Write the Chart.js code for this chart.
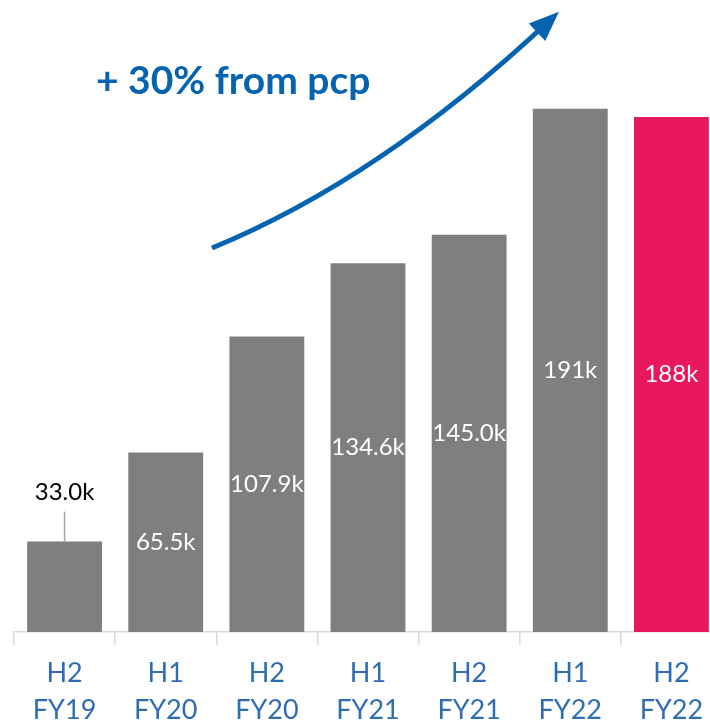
<!DOCTYPE html>
<html>
<head>
<meta charset="utf-8">
<script src="https://cdn.jsdelivr.net/npm/chart.js@4"></script>
<style>
  html, body { margin: 0; padding: 0; background: #fff; overflow: hidden; }
  #wrap { width: 710px; height: 727px; overflow: hidden; position: relative; }
  canvas { position: absolute; left: 0; top: 0; }
</style>
</head>
<body>
<div id="wrap"><canvas id="chart" width="724" height="727"></canvas></div>
<script>
// half-year periods, values in thousands
const halves = ["H2", "H1", "H2", "H1", "H2", "H1", "H2"];
const years = ["FY19", "FY20", "FY20", "FY21", "FY21", "FY22", "FY22"];
const values = [33.0, 65.5, 107.9, 134.6, 145.0, 191, 188];
const valueLabels = ["33.0k", "65.5k", "107.9k", "134.6k", "145.0k", "191k", "188k"];
const headline = "+ 30% from pcp";

const GRAY = "#7f7f7f";
const PINK = "#e9175b";
const BLUE = "#0563b0";
const AXIS_BLUE = "#2e6db4";

const barColors = values.map((v, i) => (i === values.length - 1 ? PINK : GRAY));

const barLabels = {
  id: "barLabels",
  afterDatasetsDraw(chart) {
    const { ctx } = chart;
    const meta = chart.getDatasetMeta(0);
    ctx.save();
    ctx.font = "24px Lato";
    ctx.textAlign = "center";
    ctx.textBaseline = "middle";
    meta.data.forEach((bar, i) => {
      if (i === 0) {
        // small bar: label above with a leader line
        ctx.strokeStyle = "#a6a6a6";
        ctx.lineWidth = 1.5;
        ctx.beginPath();
        ctx.moveTo(bar.x, bar.y);
        ctx.lineTo(bar.x, bar.y - 30);
        ctx.stroke();
        ctx.fillStyle = "#000";
        ctx.fillText(valueLabels[i], bar.x, bar.y - 49);
      } else {
        ctx.fillStyle = "#fff";
        ctx.fillText(valueLabels[i], bar.x, (bar.y + bar.base) / 2);
      }
    });
    ctx.restore();
  },
};

const growthArrow = {
  id: "growthArrow",
  afterDraw(chart) {
    const { ctx } = chart;
    ctx.save();
    ctx.fillStyle = BLUE;
    ctx.font = "bold 39px Lato";
    ctx.textBaseline = "middle";
    ctx.fillText(headline, 96, 81);

    const p0 = [212, 248], c = [380, 179], p2 = [548, 22];
    ctx.strokeStyle = BLUE;
    ctx.lineWidth = 5;
    ctx.beginPath();
    ctx.moveTo(p0[0], p0[1]);
    ctx.quadraticCurveTo(c[0], c[1], p2[0], p2[1]);
    ctx.stroke();

    const ang = Math.atan2(p2[1] - c[1], p2[0] - c[0]);
    const tip = [p2[0] + 15 * Math.cos(ang), p2[1] + 15 * Math.sin(ang)];
    const back = 30, half = 12;
    const bx = tip[0] - back * Math.cos(ang), by = tip[1] - back * Math.sin(ang);
    ctx.beginPath();
    ctx.moveTo(tip[0], tip[1]);
    ctx.lineTo(bx + half * Math.sin(ang), by - half * Math.cos(ang));
    ctx.lineTo(bx - half * Math.sin(ang), by + half * Math.cos(ang));
    ctx.closePath();
    ctx.fill();
    ctx.restore();
  },
};

new Chart(document.getElementById("chart"), {
  type: "bar",
  data: {
    labels: halves.map((h, i) => [h, years[i]]),
    datasets: [{
      data: values,
      backgroundColor: barColors,
      barPercentage: 0.74,
      categoryPercentage: 1,
    }],
  },
  options: {
    responsive: false,
    animation: false,
    devicePixelRatio: 1,
    layout: { padding: { left: 14, right: 2, top: 2, bottom: 0 } },
    plugins: { legend: { display: false }, tooltip: { enabled: false } },
    scales: {
      x: {
        afterFit(scale) { scale.height = 95; },
        grid: {
          display: true,
          drawOnChartArea: false,
          drawTicks: true,
          tickLength: 13,
          color: "#d9d9d9",
          lineWidth: 1.5,
          offset: true,
        },
        border: { display: true, color: "#d9d9d9", width: 1.5 },
        ticks: {
          color: AXIS_BLUE,
          font: { family: "Lato", size: 27, lineHeight: 1.4 },
          padding: 9,
          maxRotation: 0,
          autoSkip: false,
        },
      },
      y: { display: false, min: 0, max: 230 },
    },
  },
  plugins: [barLabels, growthArrow],
});
</script>
</body>
</html>
